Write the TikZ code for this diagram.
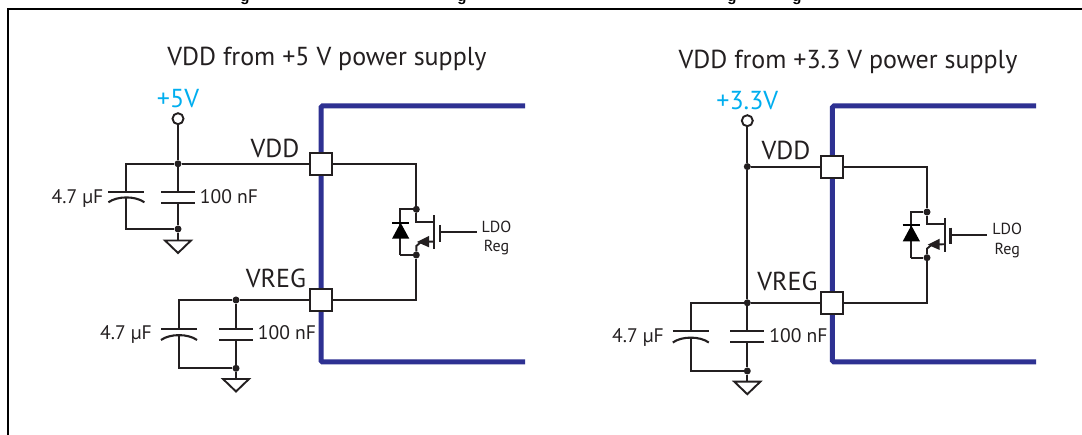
\documentclass[tikz,border=0pt]{standalone}
\usepackage{fontspec}
\setmainfont{PT Sans}
\newfontfamily\capfont{Liberation Sans}
\definecolor{ink}{HTML}{231F20}
\definecolor{pinblue}{HTML}{2E3192}
\definecolor{railcyan}{HTML}{00AEEF}
\tikzset{
  wire/.style={draw=ink,line width=1.9pt,line join=miter},
  plate/.style={draw=ink,line width=2.1pt},
  blueline/.style={draw=pinblue,line width=5pt,rounded corners=1.5pt},
  pinbox/.style={draw=ink,fill=white,line width=2.1pt,minimum size=22pt,inner sep=0pt},
  dotj/.style={circle,fill=ink,minimum size=7pt,inner sep=0pt},
  supply/.style={circle,draw=ink,fill=white,line width=1.9pt,minimum size=11pt,inner sep=0pt},
  txt/.style={anchor=base,inner sep=0pt,text=ink},
  big/.style={txt,font=\fontsize{26}{26}\selectfont},
  mid/.style={txt,font=\fontsize{19.6}{20}\selectfont},
  tiny/.style={txt,font=\fontsize{16}{16}\selectfont},
  rail/.style={anchor=base,inner sep=0pt,text=railcyan,font=\fontsize{26}{26}\selectfont},
  gnd/.style={draw=ink,line width=1.9pt,line join=miter},
}
% plain capacitor: #1 x, #2 top plate y, #3 bottom plate y
\newcommand{\flatplates}[3]{%
  \draw[plate] (#1-17,#2) -- (#1+17,#2);
  \draw[plate] (#1-17,#3) -- (#1+17,#3);}
% polarised capacitor: #1 x, #2 top plate y, #3 curved plate end y
\newcommand{\curveplates}[3]{%
  \draw[plate] (#1-18,#2) -- (#1+18,#2);
  \draw[plate] (#1-18,#3) .. controls (#1-9,#3-6.5) and (#1+9,#3-6.5) .. (#1+18,#3);}
% ground symbol: #1 name of the wire end
\newcommand{\groundsym}[1]{%
  \draw[gnd] ([xshift=-13pt]#1) -- ([xshift=13pt]#1) -- ([yshift=-12.5pt]#1) -- cycle;}
% regulator: #1 prefix, #2 dx, #3 dy
\newcommand{\regblock}[3]{%
  \begin{scope}[shift={(#2,#3)}]
    \node[dotj] (#1jt) at (416.3,209.3) {};
    \node[dotj] (#1jb) at (416.3,255) {};
    \coordinate (#1dl) at (400,209.3);
    \coordinate (#1db) at (400,255);
    \draw[wire] (#1jt) -- (#1dl) -- (#1db);
    \fill[black] (392,238.7) -- (409.3,238.7) -- (400.6,222.7) -- cycle;
    \draw[draw=black,line width=1.9pt] (392,222.7) -- (409.3,222.7);
    \draw[wire] (#1db) -- (#1jb);
    \draw[wire] (#1jt) -- (416.3,221.7) -- (434.3,221.7);
    \draw[wire,line width=2.2pt] (434.3,215.3) -- (434.3,249.3);
    \draw[wire,line width=2.2pt] (439.7,225) -- (439.7,241.7);
    \coordinate (#1ge) at (476.7,232.3);
    \draw[wire] (439.7,232.3) -- (#1ge);
    \draw[wire] (#1jb) -- (416.3,246) -- (421,242) -- (434.3,241.5);
    \fill[ink] (417,242) -- (429,236) -- (429,247.3) -- cycle;
    \node[tiny] (#1ldo) at (496.5,232.3) {LDO};
    \node[tiny] (#1reg) at (496.5,251.7) {Reg};
  \end{scope}}
\begin{document}
\begin{tikzpicture}[x=1pt,y=-1pt]
\useasboundingbox (0,0) rectangle (1082,435);
\fill[white] (0,0) rectangle (1082,435);
% tails of the cropped caption
\begin{scope}
  \clip (0,0) rectangle (1082,8);
  \foreach \gx/\gn in {245/a,462/b,732/c,797/d}
    \node[anchor=base,inner sep=0pt,font=\capfont\bfseries\fontsize{15}{15}\selectfont] (cap\gn) at (\gx,2) {g};
\end{scope}
% frame
\draw[black,line width=2pt] (8,435) -- (8,9) -- (1082,9);

% ---------- left circuit ----------
\node[big] (t1) at (327,65.7) {VDD from +5 V power supply};
\draw[blueline] (525,106) -- (321,106) -- (321,362) -- (525,362);
\node[pinbox] (b1a) at (321,163.8) {};
\node[pinbox] (b1b) at (321,300) {};
\node[rail] (r1) at (178,107.7) {+5V};
\node[supply] (s1) at (178,118.7) {};
\node[dotj] (j1a) at (178,163.8) {};
\coordinate (l1a) at (126.4,163.8);
\node[dotj] (j1b) at (178,229) {};
\coordinate (l1b) at (126.4,229);
\coordinate (g1a) at (178,240.5);
\draw[wire] (s1) -- (j1a);
\draw[wire] (j1a) -- (b1a);
\draw[wire] (j1a) -- (l1a) -- (126.4,192.3);
\draw[wire] (126.4,197.3) -- (l1b) -- (j1b);
\draw[wire] (j1a) -- (178,192.3);
\draw[wire] (178,202.7) -- (j1b);
\draw[wire] (j1b) -- (g1a);
\curveplates{126.4}{192.3}{202.3}
\flatplates{178}{192.3}{202.7}
\groundsym{g1a}
\node[big] (v1) at (275,157.7) {VDD};
\node[mid] (c1a) at (77.5,204) {4.7 µF};
\node[mid] (c1b) at (229,204) {100 nF};

\node[dotj] (j1c) at (236,300) {};
\coordinate (l1c) at (179,300);
\node[dotj] (j1d) at (236,368.3) {};
\coordinate (l1d) at (179,368.3);
\coordinate (g1b) at (236,379);
\draw[wire] (b1b) -- (j1c) -- (l1c) -- (179,328.7);
\draw[wire] (179,335) -- (l1d) -- (j1d);
\draw[wire] (j1c) -- (236,328.7);
\draw[wire] (236,340) -- (j1d);
\draw[wire] (j1d) -- (g1b);
\curveplates{179}{328.7}{340}
\flatplates{236}{328.7}{340}
\groundsym{g1b}
\node[big] (v1b) at (276,287.7) {VREG};
\node[mid] (c1c) at (126,340) {4.7 µF};
\node[mid] (c1d) at (287,340) {100 nF};

\regblock{a}{0}{0}
\draw[wire] (b1a) -| (ajt);
\draw[wire] (b1b) -| (ajb);

% ---------- right circuit ----------
\node[big] (t2) at (848,69) {VDD from +3.3 V power supply};
\draw[blueline] (1036,106) -- (832.4,106) -- (832.4,362) -- (1036,362);
\node[pinbox] (b2a) at (832.3,166.6) {};
\node[pinbox] (b2b) at (832.3,302.8) {};
\node[rail] (r2) at (747.3,110) {+3.3V};
\node[supply] (s2) at (747.3,120.7) {};
\node[dotj] (j2a) at (747.3,166.6) {};
\node[dotj] (j2c) at (747.3,302.8) {};
\coordinate (l2c) at (690.8,302.8);
\node[dotj] (j2d) at (747.3,371) {};
\coordinate (l2d) at (690.8,371);
\coordinate (g2) at (747.3,381.7);
\draw[wire] (s2) -- (j2a);
\draw[wire] (j2a) -- (b2a);
\draw[wire] (j2a) -- (j2c);
\draw[wire] (b2b) -- (j2c) -- (l2c) -- (690.8,331.3);
\draw[wire] (690.8,337) -- (l2d) -- (j2d);
\draw[wire] (j2c) -- (747.3,331.3);
\draw[wire] (747.3,342.3) -- (j2d);
\draw[wire] (j2d) -- (g2);
\curveplates{690.8}{331.3}{342.5}
\flatplates{747.3}{331.3}{342.3}
\groundsym{g2}
\node[big] (v2) at (786,160) {VDD};
\node[big] (v2b) at (787.5,290.7) {VREG};
\node[mid] (c2c) at (638,342.7) {4.7 µF};
\node[mid] (c2d) at (798.5,342.7) {100 nF};
\regblock{b}{510.7}{2.7}
\draw[wire] (b2a) -| (bjt);
\draw[wire] (b2b) -| (bjb);
\end{tikzpicture}
\end{document}
